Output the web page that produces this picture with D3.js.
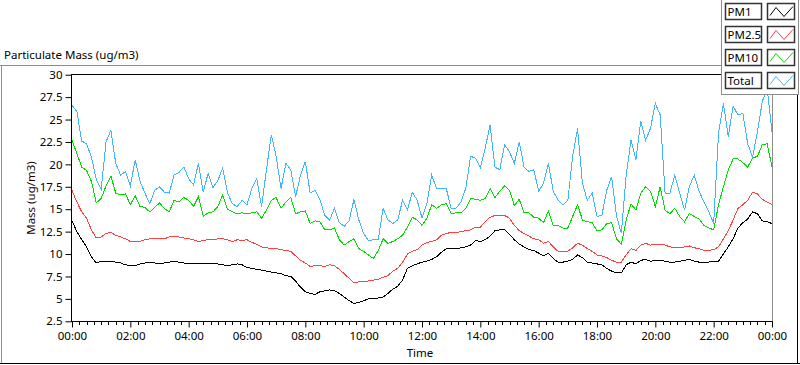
<!DOCTYPE html>
<html><head><meta charset="utf-8">
<script src="https://cdn.jsdelivr.net/npm/d3@7"></script>
<style>
html,body{margin:0;padding:0;background:#fff;}
svg{display:block;font-family:"Noto Sans",sans-serif;}
</style></head>
<body><svg id="c" width="800" height="365"></svg>
<script>
// ---- data (10-minute samples from 00:00 to 24:00) ----
const stepMinutes = 10;
const seriesNames = ["PM1", "PM2.5", "PM10", "Total"];
const seriesColors = ["#000000", "#ff4040", "#00dc00", "#40b4ff"];
const pm1 = [13.7,12.5,11.6,10.8,9.7,9.0,9.2,9.2,9.2,9.1,9.0,8.8,8.7,8.7,8.9,9.0,9.1,9.0,9.0,9.0,9.1,9.2,9.1,9.0,9.0,9.0,9.0,9.0,9.0,9.0,8.9,8.8,8.7,8.8,8.9,8.8,
8.5,8.4,8.3,8.2,8.1,8.0,7.9,7.8,7.6,7.5,7.0,6.3,5.8,5.6,5.5,5.8,5.9,6.0,5.9,5.6,5.2,4.8,4.5,4.6,4.8,5.0,5.0,5.1,5.2,5.6,6.1,6.4,7.1,8.4,8.7,8.9,
9.1,9.2,9.4,9.7,10.2,10.6,10.6,10.6,10.7,10.8,11.0,11.5,11.4,11.6,12.0,12.6,12.7,12.7,12.2,11.6,11.1,10.8,10.5,10.4,10.1,9.8,10.1,9.5,9.1,9.1,9.2,9.4,9.9,9.6,9.1,9.0,
8.9,8.8,8.4,8.1,7.9,7.9,8.8,9.1,8.9,9.3,9.4,9.2,9.3,9.3,9.2,9.1,9.1,9.2,9.3,9.4,9.2,9.1,9.0,9.1,9.2,9.2,10.0,10.8,11.7,12.9,13.5,13.9,14.7,14.5,13.7,13.6,13.4];
const pm25 = [17.1,15.8,14.7,14.0,12.7,11.8,11.9,12.3,12.4,12.1,11.9,11.7,11.4,11.4,11.4,11.6,11.7,11.7,11.7,11.7,11.9,12.0,11.9,11.8,11.7,11.6,11.4,11.5,11.6,11.6,11.7,11.7,11.6,11.4,11.6,11.5,
11.6,11.3,11.1,10.8,10.7,10.6,10.6,10.5,10.4,10.3,9.8,9.3,9.0,8.6,8.7,8.7,8.6,8.8,8.7,8.3,7.8,7.3,6.8,6.9,6.9,7.0,7.1,7.2,7.4,7.6,8.1,8.4,9.1,10.0,10.3,10.5,
11.0,11.3,11.4,11.6,12.1,12.3,12.4,12.4,12.5,12.6,12.7,13.0,13.0,13.6,14.1,14.3,14.3,14.3,14.0,13.2,12.6,12.3,12.0,11.7,11.6,11.2,11.4,10.8,10.3,10.3,10.3,10.7,11.2,11.0,10.6,10.3,
9.9,9.8,9.6,9.3,9.1,9.1,9.9,10.6,10.4,11.0,11.2,11.0,11.1,11.1,11.0,10.8,10.7,10.7,10.8,10.9,10.7,10.6,10.4,10.4,10.5,10.8,11.7,12.6,13.8,15.1,15.5,16.0,16.9,16.7,16.1,15.8,15.5];
const pm10 = [22.7,21.2,19.7,19.3,18.1,15.7,16.2,17.6,18.7,16.8,16.6,16.7,15.5,16.5,15.3,15.2,14.7,15.2,15.7,15.1,14.7,16.0,15.8,16.3,16.0,15.3,16.4,14.2,14.6,14.7,15.3,16.6,15.0,14.7,14.5,14.6,
14.5,14.6,14.7,14.0,14.9,16.0,16.3,15.1,15.8,16.3,14.5,14.7,14.8,13.4,13.7,13.6,12.7,12.7,12.9,11.6,11.0,11.4,11.7,10.6,10.3,9.9,9.5,10.4,11.7,11.2,11.4,11.7,12.1,13.0,14.1,13.8,
13.2,14.0,15.5,15.1,15.5,15.6,14.5,14.6,14.6,15.1,16.2,16.1,16.0,16.2,17.3,16.3,17.0,17.6,17.1,15.4,16.1,14.6,14.6,14.1,14.0,13.5,14.8,13.2,13.2,12.9,12.9,14.2,15.5,13.8,13.6,13.5,
12.6,12.7,13.4,13.5,11.7,11.1,13.8,15.6,14.9,16.8,17.5,17.0,15.3,17.5,14.9,14.5,15.1,14.2,13.6,14.5,14.2,13.9,13.2,12.9,12.7,15.5,17.5,19.4,20.6,20.6,20.2,19.7,20.7,20.9,22.2,22.3,19.7];
const total = [26.6,25.9,22.6,22.3,20.8,18.3,17.2,22.5,23.8,20.1,18.8,19.2,17.6,20.5,18.1,16.8,15.6,17.1,17.5,16.9,16.8,18.8,19.1,19.7,18.4,17.7,20.1,16.9,19.0,17.4,18.2,19.6,16.8,15.6,15.3,16.0,
15.5,17.3,18.4,15.3,19.4,23.3,20.9,17.3,20.1,19.4,16.4,18.8,20.3,16.8,17.1,16.1,14.3,13.8,15.1,13.5,13.1,13.7,16.1,13.8,12.3,11.5,11.6,11.6,15.1,13.8,13.4,13.8,16.0,14.9,16.9,16.0,
14.0,15.6,18.8,17.3,17.3,17.3,15.1,15.1,15.8,17.3,20.9,20.7,19.6,21.8,24.4,19.7,19.4,22.2,21.4,20.1,22.5,19.7,19.2,19.4,17.0,17.9,20.1,17.0,16.0,15.5,16.0,20.9,24.0,17.9,16.0,16.8,
14.2,14.3,17.1,18.6,14.3,12.3,18.8,22.7,20.5,24.8,22.7,24.0,26.8,25.5,16.8,16.8,18.8,16.8,14.9,17.5,18.8,17.0,15.8,14.7,13.4,23.5,26.8,23.1,26.5,25.5,25.7,22.3,20.8,23.6,27.0,28.5,23.6];
const yTicks = [2.5,5,7.5,10,12.5,15,17.5,20,22.5,25,27.5,30];
const xTickLabels = ["00:00","02:00","04:00","06:00","08:00","10:00","12:00","14:00","16:00","18:00","20:00","22:00","00:00"];
const chartTitle = "Particulate Mass (ug/m3)";
const yTitle = "Mass (ug/m3)";
const xTitle = "Time";

// ---- layout ----
const svg = d3.select("#c");
const L = 72, R = 772, T = 74.7, B = 321.3;
const x = d3.scaleLinear().domain([0, 1440]).range([L, R]);
const y = d3.scaleLinear().domain([2.5, 30]).range([B, T]);
const font = "'Noto Sans', sans-serif";

// outer frame
svg.append("line").attr("x1",0).attr("x2",722).attr("y1",65.5).attr("y2",65.5).attr("stroke","#8c8c8c");
svg.append("line").attr("x1",1.5).attr("x2",1.5).attr("y1",65).attr("y2",364).attr("stroke","#8c8c8c");
svg.append("line").attr("x1",0).attr("x2",800).attr("y1",363.5).attr("y2",363.5).attr("stroke","#000");
svg.append("line").attr("x1",797.5).attr("x2",797.5).attr("y1",94).attr("y2",364).attr("stroke","#000");

// title
svg.append("text").attr("x",4).attr("y",59).attr("font-size",11.5).attr("fill","#000").text(chartTitle);

// plot frame
svg.append("line").attr("x1",71).attr("x2",722).attr("y1",74.5).attr("y2",74.5).attr("stroke","#000");
svg.append("line").attr("x1",772.5).attr("x2",772.5).attr("y1",94).attr("y2",322).attr("stroke","#8c8c8c");

// clip for lines
svg.append("clipPath").attr("id","clip").append("rect").attr("x",L).attr("y",T-1).attr("width",R-L).attr("height",B-T+1);

const minutes = d3.range(0, 1441, stepMinutes);
const allSeries = [pm1, pm25, pm10, total];
const line = d3.line().x((d,i)=>x(minutes[i])).y(d=>y(d));
const g = svg.append("g").attr("clip-path","url(#clip)");
[3,2,1,0].forEach(k=>{
  g.append("path").datum(allSeries[k]).attr("d",line).attr("fill","none")
   .attr("stroke",seriesColors[k]).attr("stroke-width",1).attr("shape-rendering","crispEdges");
});

// y axis
const yAxis = d3.axisLeft(y).tickValues(yTicks).tickSize(6).tickPadding(3).tickFormat(d=>String(d));
const ya = svg.append("g").attr("transform","translate(71.5,0)").call(yAxis);
ya.select(".domain").attr("d",`M0,${T-0.7}V${B+0.7}`).attr("stroke","#000");
ya.selectAll(".tick line").attr("stroke","#000");
ya.selectAll(".tick text").attr("font-family",font).attr("font-size",11.5).attr("fill","#000");

// x axis
const xAxis = d3.axisBottom(x).tickValues(d3.range(0,1441,120)).tickSize(6).tickPadding(4)
  .tickFormat((d,i)=>xTickLabels[i]);
const xa = svg.append("g").attr("transform","translate(0,321.5)").call(xAxis);
xa.select(".domain").attr("d",`M${L-1},0H${R+0.5}`).attr("stroke","#000");
xa.selectAll(".tick line").attr("stroke","#000");
xa.selectAll(".tick text").attr("font-family",font).attr("font-size",11.5).attr("fill","#000");
const minor = d3.range(0,1441,15).filter(m=>m%120!==0);
svg.append("g").selectAll("line").data(minor).join("line")
  .attr("x1",d=>Math.round(x(d))+0.5).attr("x2",d=>Math.round(x(d))+0.5)
  .attr("y1",322).attr("y2",325).attr("stroke","#000");

// axis titles
svg.append("text").attr("x",(L+R)/2-2).attr("y",357).attr("text-anchor","middle").attr("font-size",11.5).text(xTitle);
svg.append("text").attr("transform",`translate(35,${(T+B)/2}) rotate(-90)`).attr("text-anchor","middle")
  .attr("font-size",11.5).attr("fill","#200000").text(yTitle);

// legend
const lg = svg.append("g");
lg.append("rect").attr("x",721.5).attr("y",-1).attr("width",77).attr("height",95.5).attr("fill","#fff").attr("stroke","#8c8c8c");
seriesNames.forEach((n,k)=>{
  const ty = 3.5 + k*23;
  lg.append("rect").attr("x",725.5).attr("y",ty).attr("width",36).attr("height",16).attr("fill","#fff").attr("stroke","#333").attr("stroke-width",1.5);
  lg.append("text").attr("x",727.5).attr("y",ty+12.5).attr("font-size",11.5).attr("fill","#000").text(n);
  lg.append("rect").attr("x",767.5).attr("y",ty).attr("width",27).attr("height",16).attr("fill","#fff").attr("stroke","#333").attr("stroke-width",1.5);
  const pts = [[770,ty+12],[776,ty+4],[784,ty+13],[793,ty+3]];
  lg.append("path").attr("d",d3.line()(pts)).attr("fill","none").attr("stroke",seriesColors[k]).attr("stroke-width",1);
});
</script></body></html>
